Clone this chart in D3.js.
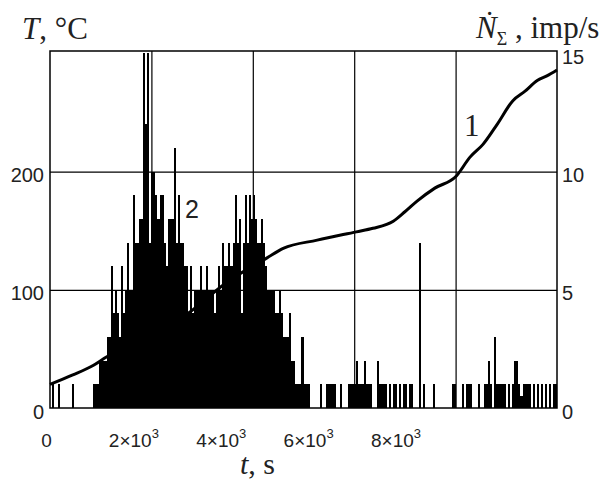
<!DOCTYPE html>
<html>
<head>
<meta charset="utf-8">
<script src="https://cdn.jsdelivr.net/npm/d3@7"></script>
<style>
  body { margin: 0; background: #fff; }
  .serif { font-family: "Liberation Serif", "Times New Roman", serif; }
  .sans { font-family: "Liberation Sans", Arial, sans-serif; }
</style>
</head>
<body>
<div id="chart"></div>
<script>
// curve 1: temperature T (deg C) vs time t (s)
var curveTime = [0, 450, 850, 1070, 2720, 3510, 4280, 4600, 5270, 6040, 6370, 6770, 7000,
                 7240, 7590, 8010, 8280, 8540, 8820, 9130, 9370, 9610, 9800, 10000];
var curveTemp = [20, 28, 36, 42, 80, 107, 127, 135, 142, 149, 152, 158, 166,
                 175, 186, 196, 212, 223, 240, 260, 268, 277, 281, 286];

// curve 2: count rate N (imp/s), one value per 40 s bin starting at t = 0
var binWidth = 40;
var countRate = [
  0, 1, 0, 0, 1, 0, 0, 0, 0, 0,
  0, 1, 0, 0, 0, 0, 0, 0, 0, 0,
  0, 1, 1, 1, 2, 2, 2, 2, 3, 3,
  6, 4, 5, 4, 3, 6, 4, 5, 7, 5,
  5, 9, 7, 7, 8, 8, 15, 12, 15, 7,
  10, 10, 9, 8, 9, 9, 7, 6, 8, 8,
  8, 11, 7, 9, 7, 7, 6, 6, 4, 6,
  4, 5, 5, 5, 6, 5, 5, 6, 5, 5,
  5, 4, 5, 6, 5, 7, 6, 6, 7, 6,
  7, 9, 7, 8, 4, 7, 9, 7, 9, 8,
  9, 8, 7, 7, 8, 7, 6, 5, 5, 5,
  5, 4, 4, 5, 4, 3, 3, 3, 4, 2,
  2, 1, 1, 1, 3, 1, 1, 1, 0, 0,
  0, 0, 0, 1, 0, 0, 1, 1, 1, 1,
  1, 0, 0, 1, 0, 0, 0, 1, 1, 1,
  1, 2, 1, 1, 1, 2, 1, 1, 1, 0,
  0, 2, 1, 1, 1, 1, 0, 1, 0, 1,
  1, 0, 1, 0, 1, 1, 0, 1, 1, 0,
  0, 0, 7, 0, 1, 0, 0, 0, 0, 1,
  0, 0, 0, 0, 0, 0, 0, 0, 1, 1,
  0, 0, 0, 1, 0, 1, 1, 1, 0, 0,
  0, 1, 0, 0, 1, 1, 2, 1, 0, 3,
  1, 1, 1, 1, 1, 0, 1, 0, 1, 2,
  2, 1, 0.5, 1, 1, 1, 1, 0, 1, 0,
  1, 0, 1, 0, 1, 0, 1, 0, 1, 1
];

// ticks
var xTicks = [0, 2000, 4000, 6000, 8000];
var xTickMant = ["0", "2", "4", "6", "8"];
var tTicks = [0, 100, 200];
var nTicks = [0, 5, 10, 15];

var svgWidth = 602, svgHeight = 488;
var margin = {top: 51, right: 45, bottom: 80, left: 50};
var w = svgWidth - margin.left - margin.right;
var h = svgHeight - margin.top - margin.bottom;

var svg = d3.select('#chart').append('svg')
  .attr('width', svgWidth)
  .attr('height', svgHeight);

var g = svg.append('g')
  .attr('transform', `translate(${margin.left}, ${margin.top})`);

var x = d3.scaleLinear().domain([0, 10000]).range([0, w]);
var yT = d3.scaleLinear().domain([0, 302]).range([h, 0]);
var yN = d3.scaleLinear().domain([0, 15.1]).range([h, 0]);
// tick labels in the picture sit on a slightly narrower spacing than the grid
var xLab = d3.scaleLinear().domain([0, 8000]).range([-3.5, 346]);

g.append('clipPath').attr('id', 'plotClip')
  .append('rect').attr('width', w).attr('height', h);

// grid
g.append('g')
  .call(d3.axisBottom(x).tickValues(xTicks.slice(1)).tickSize(h).tickFormat(''))
  .call(a => a.select('.domain').remove())
  .selectAll('line').attr('stroke', '#000').attr('stroke-width', 1.2);

g.append('g')
  .call(d3.axisLeft(yT).tickValues([100, 200]).tickSize(-w).tickFormat(''))
  .call(a => a.select('.domain').remove())
  .selectAll('line').attr('stroke', '#000').attr('stroke-width', 1.2);

// histogram 2
var bars = countRate.map((v, i) => ({t: i * binWidth, n: v})).filter(d => d.n > 0);
g.append('g').attr('clip-path', 'url(#plotClip)')
  .selectAll('rect')
  .data(bars)
  .enter()
  .append('rect')
  .attr('x', d => x(d.t))
  .attr('width', d => x(d.t + binWidth) - x(d.t))
  .attr('y', d => yN(d.n))
  .attr('height', d => yN(0) - yN(d.n))
  .attr('fill', '#000')
  .attr('shape-rendering', 'crispEdges');

// curve 1
var line = d3.line()
  .x(d => x(d[0]))
  .y(d => yT(d[1]))
  .curve(d3.curveMonotoneX);

g.append('path')
  .datum(curveTime.map((t, i) => [t, curveTemp[i]]))
  .attr('d', line)
  .attr('fill', 'none')
  .attr('stroke', '#000')
  .attr('stroke-width', 3);

// frame
g.append('rect')
  .attr('width', w).attr('height', h)
  .attr('fill', 'none').attr('stroke', '#000').attr('stroke-width', 1.5);

// left axis labels
g.append('g')
  .call(d3.axisLeft(yT).tickValues(tTicks).tickSize(0).tickPadding(6))
  .call(a => a.select('.domain').remove())
  .selectAll('text')
    .attr('class', 'sans')
    .attr('dy', '0.5em')
    .style('font-size', '20px')
    .attr('fill', '#222');

// right axis labels
g.append('g')
  .attr('transform', `translate(${w}, 0)`)
  .call(d3.axisRight(yN).tickValues(nTicks).tickSize(0).tickPadding(5))
  .call(a => a.select('.domain').remove())
  .selectAll('text')
    .attr('class', 'sans')
    .attr('dy', '0.5em')
    .style('font-size', '20px')
    .attr('fill', '#222');

// bottom axis labels  (m x 10^3)
var xl = g.append('g').attr('class', 'sans').attr('fill', '#222');
xTicks.forEach(function(t, i) {
  var txt = xl.append('text')
    .attr('x', xLab(t))
    .attr('y', h + 39)
    .attr('text-anchor', 'middle')
    .style('font-size', '19px');
  if (t === 0) {
    txt.text(xTickMant[i]);
  } else {
    txt.append('tspan').text(xTickMant[i] + '\u00d710');
    txt.append('tspan').attr('dy', -9).style('font-size', '13px').text('3');
  }
});

// axis titles
var tl = svg.append('text').attr('class', 'serif')
  .attr('x', 22).attr('y', 39).style('font-size', '31px').attr('fill', '#222');
tl.append('tspan').style('font-style', 'italic').text('T');
tl.append('tspan').text(', \u00b0C');

var nl = svg.append('text').attr('class', 'serif')
  .attr('x', 476).attr('y', 38).style('font-size', '31px').attr('fill', '#222');
nl.append('tspan').style('font-style', 'italic').text('\u1e44');
nl.append('tspan').attr('dy', 7).style('font-size', '18px').text('\u03a3');
nl.append('tspan').attr('dy', -7).text(' , imp/s');

var xt = svg.append('text').attr('class', 'serif')
  .attr('x', 240).attr('y', 474).style('font-size', '30px').attr('fill', '#222');
xt.append('tspan').style('font-style', 'italic').text('t');
xt.append('tspan').text(', s');

// curve labels
svg.append('text').attr('class', 'serif')
  .attr('x', 464).attr('y', 136).style('font-size', '31px').attr('fill', '#222')
  .text('1');
svg.append('text').attr('class', 'sans')
  .attr('x', 185).attr('y', 218).style('font-size', '25px').attr('fill', '#222')
  .text('2');
</script>
</body>
</html>
